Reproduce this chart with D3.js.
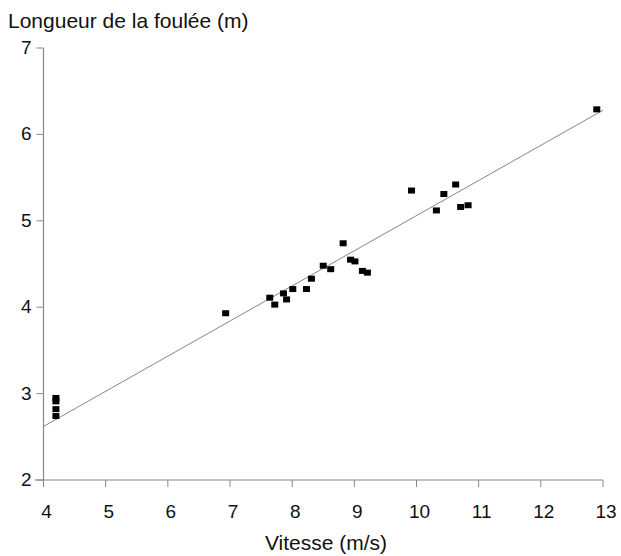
<!DOCTYPE html>
<html>
<head>
<meta charset="utf-8">
<script src="https://cdn.jsdelivr.net/npm/d3@7"></script>
<style>
  body { margin: 0; background: #fff; }
  text { font-family: "Liberation Sans", Arial, sans-serif; fill: #111; }
</style>
</head>
<body>
<svg id="chart" width="621" height="556"></svg>
<script>
// vitesse (m/s) vs longueur de la foulée (m)
let speeds = [4.2, 4.2, 4.2, 4.2, 6.93, 7.64, 7.72, 7.86, 7.91, 8.01, 8.23, 8.31, 8.5, 8.62,
              8.82, 8.94, 9.01, 9.13, 9.21, 9.92, 10.32, 10.44, 10.63, 10.71, 10.83, 12.9];
let strides = [2.95, 2.91, 2.82, 2.74, 3.93, 4.11, 4.03, 4.16, 4.09, 4.21, 4.21, 4.33, 4.48, 4.44,
               4.74, 4.55, 4.53, 4.42, 4.40, 5.35, 5.12, 5.31, 5.42, 5.16, 5.18, 6.29];
let fitLine = [[4, 2.62], [13, 6.28]];
let xTicks = [4, 5, 6, 7, 8, 9, 10, 11, 12, 13];
let yTicks = [2, 3, 4, 5, 6, 7];

let svg = d3.select("#chart");

let xScale = d3.scaleLinear().domain([4, 13]).range([43.5, 603]);
let yScale = d3.scaleLinear().domain([2, 7]).range([480, 48]);

let axisColor = "#888";

// x axis
let xAxis = svg.append("g").attr("transform", "translate(0,480)");
xAxis.append("line")
     .attr("x1", 35).attr("x2", xScale(13))
     .attr("stroke", axisColor).attr("stroke-width", 1.2);
xAxis.selectAll(".xt").data(xTicks).enter().append("line")
     .attr("x1", d => xScale(d)).attr("x2", d => xScale(d))
     .attr("y1", 0).attr("y2", 7)
     .attr("stroke", axisColor);
xAxis.selectAll(".xl").data(xTicks).enter().append("text")
     .attr("x", d => xScale(d) + 3).attr("y", 38)
     .attr("text-anchor", "middle")
     .attr("font-size", 19)
     .text(d => d);

// y axis
let yAxis = svg.append("g").attr("transform", "translate(43.5,0)");
yAxis.append("line")
     .attr("y1", yScale(7)).attr("y2", yScale(2))
     .attr("stroke", axisColor).attr("stroke-width", 1.2);
yAxis.selectAll(".yt").data(yTicks).enter().append("line")
     .attr("x1", -7).attr("x2", 0)
     .attr("y1", d => yScale(d)).attr("y2", d => yScale(d))
     .attr("stroke", axisColor);
yAxis.selectAll(".yl").data(yTicks).enter().append("text")
     .attr("x", -12).attr("y", d => yScale(d) + 6)
     .attr("text-anchor", "end")
     .attr("font-size", 19)
     .text(d => d);

// regression line
svg.append("line")
   .attr("x1", xScale(fitLine[0][0])).attr("y1", yScale(fitLine[0][1]))
   .attr("x2", xScale(fitLine[1][0])).attr("y2", yScale(fitLine[1][1]))
   .attr("stroke", "#777").attr("stroke-width", 0.9);

// points
svg.selectAll(".pt").data(speeds).enter().append("rect")
   .attr("x", (d, i) => xScale(d) - 3.5)
   .attr("y", (d, i) => yScale(strides[i]) - 3)
   .attr("width", 7).attr("height", 6)
   .attr("fill", "#000");

// titles
svg.append("text")
   .attr("x", 8).attr("y", 28)
   .attr("font-size", 21)
   .text("Longueur de la foulée (m)");

svg.append("text")
   .attr("x", 326).attr("y", 550)
   .attr("text-anchor", "middle")
   .attr("font-size", 21)
   .text("Vitesse (m/s)");
</script>
</body>
</html>
